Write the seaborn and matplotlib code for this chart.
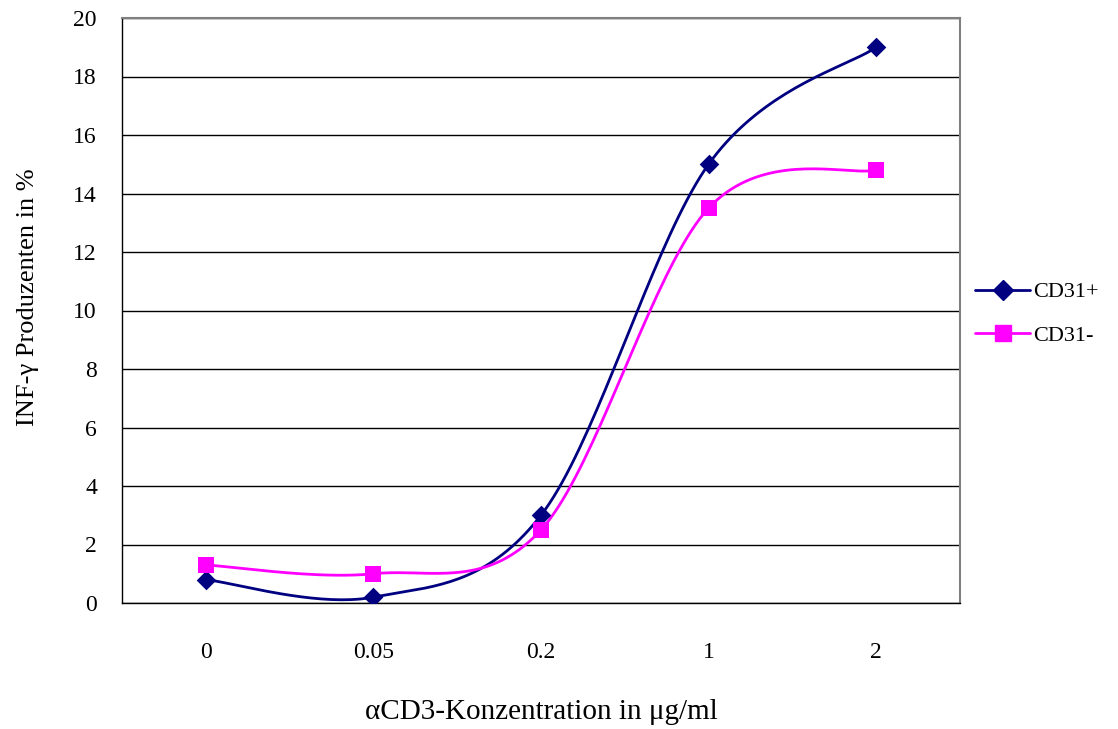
import numpy as np
import pandas as pd
import matplotlib
matplotlib.use("Agg")
import matplotlib.pyplot as plt
import seaborn as sns
from matplotlib.lines import Line2D

# Data
concentrations = ["0", "0.05", "0.2", "1", "2"]
cd31_pos = [0.8, 0.2, 3.0, 15.0, 19.0]
cd31_neg = [1.3, 1.0, 2.5, 13.5, 14.8]

sns.set_theme(style="white")
plt.rcParams["font.family"] = ["Liberation Serif", "DejaVu Serif"]
plt.rcParams["text.color"] = "black"
plt.rcParams["axes.labelcolor"] = "black"
plt.rcParams["xtick.color"] = "black"
plt.rcParams["ytick.color"] = "black"


def smooth(xs, ys, n=40):
    """Cubic Bezier smoothing through every point (Catmull-Rom style)."""
    p = np.column_stack([xs, ys]).astype(float)
    ext = np.vstack([p[0], p, p[-1]])
    out = []
    t = np.linspace(0, 1, n)[:, None]
    for i in range(len(p) - 1):
        p0, p3 = ext[i + 1], ext[i + 2]
        c1 = p0 + (ext[i + 2] - ext[i]) / 6.0
        c2 = p3 - (ext[i + 3] - ext[i + 1]) / 6.0
        seg = ((1 - t) ** 3) * p0 + 3 * ((1 - t) ** 2) * t * c1 + 3 * (1 - t) * t ** 2 * c2 + t ** 3 * p3
        out.append(seg if i == 0 else seg[1:])
    out = np.vstack(out)
    return out[:, 0], out[:, 1]


xpos = np.arange(len(concentrations))
series = [
    ("CD31+", cd31_pos, "#000080", "D", 10),
    ("CD31-", cd31_neg, "#FF00FF", "s", 12),
]

fig = plt.figure(figsize=(11.18, 7.29), dpi=100)
ax = fig.add_axes([122 / 1118, 126 / 729, 838 / 1118, 585 / 729])

handles = []
for name, vals, color, marker, ms in series:
    sx, sy = smooth(xpos, vals)
    curve = pd.DataFrame({"x": sx, "y": sy})
    sns.lineplot(data=curve, x="x", y="y", ax=ax, color=color, lw=2, sort=False,
                 estimator=None)
    pts = pd.DataFrame({"x": xpos, "y": vals})
    sns.scatterplot(data=pts, x="x", y="y", ax=ax, color=color, marker=marker,
                    s=ms ** 2, edgecolor=color, linewidth=0, zorder=5)
    handles.append(Line2D([0], [0], color=color, lw=2, marker=marker,
                          markersize=ms, markeredgecolor=color, label=name))

ax.set_xlim(-0.5, len(concentrations) - 0.5)
ax.set_ylim(0, 20)
ax.set_yticks(np.arange(0, 21, 2))
ax.set_xticks(xpos)
ax.set_xticklabels(concentrations)
ax.set_xticks(np.arange(-0.5, len(concentrations), 1.0), minor=True)
ax.tick_params(axis="x", which="major", length=0, pad=28, labelsize=17)
ax.tick_params(axis="x", which="minor", length=8, width=1, color="black", direction="out")
ax.tick_params(axis="y", which="major", length=8, width=1, color="black", direction="out",
               labelsize=17, pad=10)
ax.yaxis.grid(True, color="black", lw=1)
ax.set_axisbelow(True)

for side in ["top", "right"]:
    ax.spines[side].set_color("#808080")
    ax.spines[side].set_linewidth(1.5)
for side in ["left", "bottom"]:
    ax.spines[side].set_color("black")
    ax.spines[side].set_linewidth(1)

ax.set_xlabel("αCD3-Konzentration in μg/ml", fontsize=21)
ax.set_ylabel("INF-γ Produzenten in %", fontsize=19)
ax.xaxis.set_label_coords(0.5, -(712 - 603) / 585, transform=ax.transAxes)
ax.xaxis.label.set_va("center")
ax.yaxis.set_label_coords(-(122 - 28) / 838, (603 - 297) / 585, transform=ax.transAxes)
ax.yaxis.label.set_va("center")

fig.legend(handles=handles, loc="center left", bbox_to_anchor=(966 / 1118, 1 - 314 / 729),
           frameon=False, fontsize=16, handlelength=2.5, handletextpad=0.1,
           labelspacing=1.05, borderaxespad=0)

fig.savefig("out.png", dpi=100)
